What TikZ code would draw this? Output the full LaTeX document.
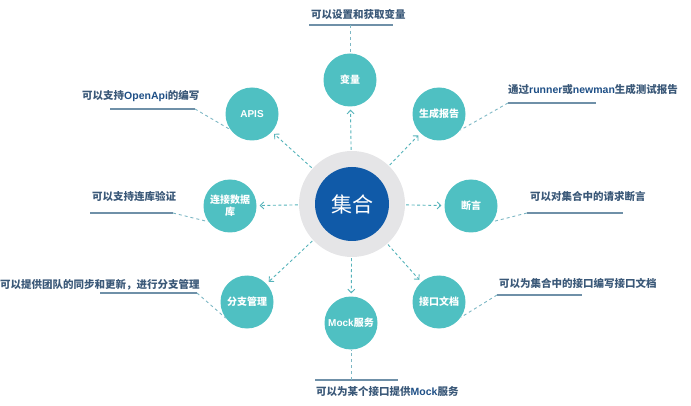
\documentclass[tikz,border=0pt]{standalone}
\usepackage{fontspec}
\setmainfont{Noto Sans CJK SC}
\newfontfamily\latb{Liberation Sans}
\usetikzlibrary{arrows.meta}
\definecolor{tealc}{HTML}{4FC0C2}
\definecolor{bluec}{HTML}{105AA8}
\definecolor{ringc}{HTML}{E5E5E7}
\definecolor{arrc}{HTML}{55B3BA}
\definecolor{connc}{HTML}{7DB7C4}
\definecolor{ulc}{HTML}{6F90A8}
\definecolor{lblc}{HTML}{3A5878}
\definecolor{latc}{HTML}{1E4F86}
\newcommand{\lw}[1]{{\latb\bfseries\color{latc}#1}}
\newcommand{\cw}[1]{{\latb\bfseries #1}}
\begin{document}
\begin{tikzpicture}[x=1pt,y=-1pt,
  sat/.style={circle, fill=tealc, minimum size=53pt, inner sep=0pt, text=white,
    font=\bfseries\fontsize{10}{12}\selectfont, align=center},
  lbl/.style={anchor=west, inner sep=0pt, text=lblc, font=\bfseries\fontsize{10.5}{12}\selectfont},
  uline/.style={draw=ulc, line width=1.1pt},
  arr/.style={draw=arrc, line width=0.9pt, dash pattern=on 3pt off 2.5pt,
    -{Straight Barb[length=3.5pt,width=7pt]}, shorten >=3pt, shorten <=1pt},
  conn/.style={draw=connc, line width=0.9pt, dash pattern=on 3pt off 3pt}]
\useasboundingbox (0,0) rectangle (691,406);

% centre
\node[circle, fill=ringc, minimum size=106pt, inner sep=0pt] (c) at (352,204) {};
\node[circle, fill=bluec, minimum size=74pt, inner sep=0pt, text=white,
  font=\fontsize{21}{24}\selectfont] (ci) at (352,204) {集合};

% satellites
\node[sat] (v) at (350,80) {变量};
\node[sat] (api) at (252,114) {\cw{APIS}};
\node[sat] (rep) at (439,114) {生成报告};
\node[sat] (db) at (230,206) {连接数据\\库};
\node[sat] (as) at (471,206) {断言};
\node[sat] (br) at (247,302) {分支管理};
\node[sat] (doc) at (439,302) {接口文档};
\node[sat] (mk) at (351,323) {\cw{Mock}服务};

% arrows from centre
\foreach \s in {v,api,rep,db,as,br,doc,mk}{
  \draw[arr] (c) -- (\s);
}

% labels
\node[lbl] (t1) at (311,14) {可以设置和获取变量};
\node[lbl] (t2) at (82,96) {可以支持\lw{OpenApi}的编写};
\node[lbl] (t3) at (508,90) {通过\lw{runner}或\lw{newman}生成测试报告};
\node[lbl] (t4) at (92,197) {可以支持连库验证};
\node[lbl] (t5) at (530,197) {可以对集合中的请求断言};
\node[lbl] (t6) at (0,285) {可以提供团队的同步和更新，进行分支管理};
\node[lbl] (t7) at (499,283) {可以为集合中的接口编写接口文档};
\node[lbl] (t8) at (316,392) {可以为某个接口提供\lw{Mock}服务};

% underlines
\coordinate (u1a) at (309,25);  \coordinate (u1b) at (393,25); \coordinate (u1m) at (350,25);
\coordinate (u2a) at (110,109); \coordinate (u2b) at (195,109);
\coordinate (u3a) at (508,103); \coordinate (u3b) at (596,103);
\coordinate (u4a) at (90,213);  \coordinate (u4b) at (173,213);
\coordinate (u5a) at (527,213); \coordinate (u5b) at (623,213);
\coordinate (u6a) at (100,293); \coordinate (u6b) at (197,293);
\coordinate (u7a) at (497,295); \coordinate (u7b) at (582,295);
\coordinate (u8a) at (315,380); \coordinate (u8b) at (398,380); \coordinate (u8m) at (351,380);
\draw[uline] (u1a) -- (u1b);
\draw[uline] (u2a) -- (u2b);
\draw[uline] (u3a) -- (u3b);
\draw[uline] (u4a) -- (u4b);
\draw[uline] (u5a) -- (u5b);
\draw[uline] (u6a) -- (u6b);
\draw[uline] (u7a) -- (u7b);
\draw[uline] (u8a) -- (u8b);

% connectors to labels
\draw[conn] (u1m) -- (v.north);
\draw[conn] (u2b) -- (api.216);
\draw[conn] (u3a) -- (rep.323);
\draw[conn] (u4b) -- (db.216);
\draw[conn] (u5a) -- (as.324);
\draw[conn] (u6b) -- (br.217);
\draw[conn] (u7a) -- (doc.325);
\draw[conn] (u8m) -- (mk.south);
\end{tikzpicture}
\end{document}
